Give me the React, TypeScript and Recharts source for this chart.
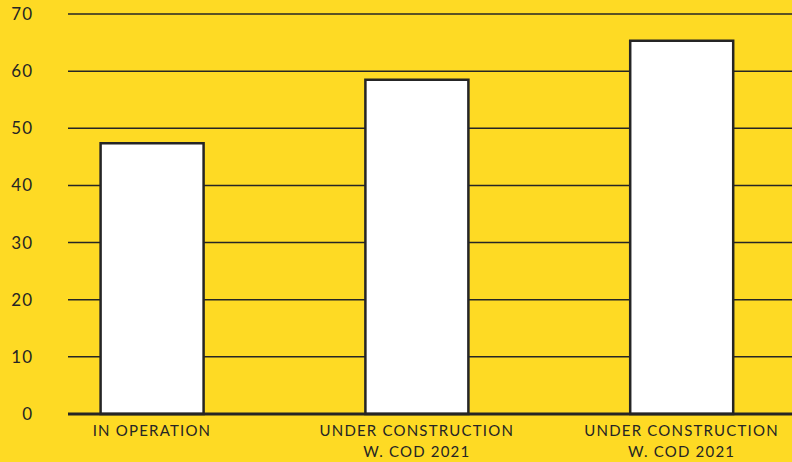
import React from "react";
import { BarChart, Bar, XAxis, YAxis, CartesianGrid } from "recharts";

const categories = ["IN OPERATION", "UNDER CONSTRUCTION\nW. COD 2021", "UNDER CONSTRUCTION\nW. COD 2021"];
const values = [47.4, 58.5, 65.3];
const yTicks = [0, 10, 20, 30, 40, 50, 60, 70];

const data = categories.map((c, i) => ({ pos: i, name: c, value: values[i] }));

const BG = "#FEDA24";
const INK = "#252525";
const FONT = "Lato, 'Noto Sans', sans-serif";

const XTick = (props: any) => {
  const { x, y, payload } = props;
  const label = categories[payload.value] ?? "";
  const lines = label.split("\n");
  return (
    <text
      x={x}
      y={y}
      textAnchor="middle"
      fill={INK}
      fontFamily={FONT}
      fontSize={15}
      letterSpacing={1.2}
    >
      {lines.map((l, i) => (
        <tspan key={i} x={x} dy={i === 0 ? 14 : 21}>
          {l}
        </tspan>
      ))}
    </text>
  );
};

export default function App() {
  return (
    <div
      style={{
        position: "fixed",
        left: 0,
        top: 0,
        width: 792,
        height: 462,
        background: BG,
        overflow: "hidden",
      }}
    >
      <BarChart
        width={792}
        height={462}
        data={data}
        margin={{ top: 14, right: 0, bottom: 0, left: 0 }}
      >
        <CartesianGrid vertical={false} stroke={INK} strokeWidth={1.5} />
        <XAxis
          dataKey="pos"
          type="number"
          domain={[-0.3172, 2.4169]}
          allowDataOverflow
          ticks={[0, 1, 2]}
          height={48}
          tick={<XTick />}
          tickLine={false}
          tickSize={0}
          tickMargin={8}
          axisLine={{ stroke: INK, strokeWidth: 3 }}
        />
        <YAxis
          type="number"
          domain={[0, 70]}
          ticks={yTicks}
          width={68}
          axisLine={false}
          tickLine={false}
          tickSize={0}
          tickMargin={35}
          tick={{ fill: INK, fontFamily: FONT, fontSize: 17, letterSpacing: 1 }}
        />
        <Bar
          dataKey="value"
          fill="#ffffff"
          stroke={INK}
          strokeWidth={2.5}
          barSize={103}
          isAnimationActive={false}
        />
      </BarChart>
    </div>
  );
}
